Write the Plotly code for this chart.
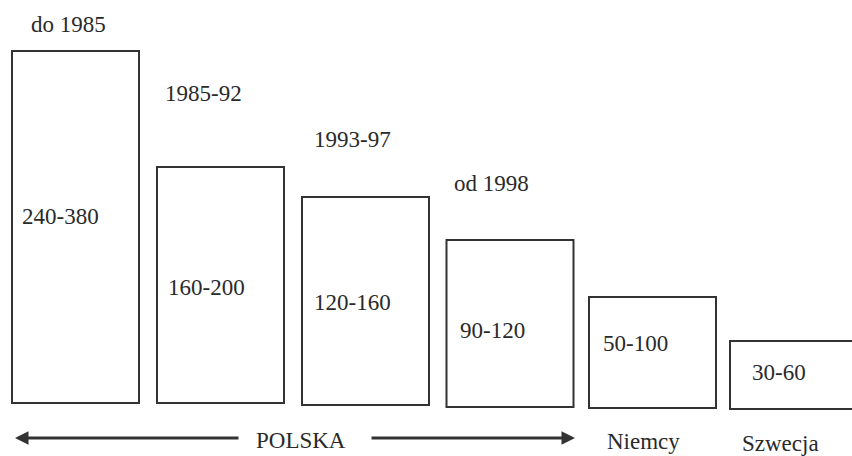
import plotly.graph_objects as go

# ---- data ----
periods = ["do 1985", "1985-92", "1993-97", "od 1998", "", ""]
ranges = ["240-380", "160-200", "120-160", "90-120", "50-100", "30-60"]
countries = ["POLSKA", "Niemcy", "Szwecja"]
# schematic box heights and baselines (chart units = pixels from bottom)
box_height = [352, 236, 208, 167, 111, 68]
box_bottom = [53, 53, 51, 49, 48, 47]

# ---- layout positions (not data) ----
W, H = 852, 456
box_center = [75.5, 220.5, 365.5, 510, 652.5, 793.5]
box_width = 127
period_pos = [(29, 24), (163, 93), (312, 139), (452, 183)]
range_pos = [(20, 216), (166, 287), (312, 302), (458, 330), (601, 343), (750, 372)]
country_pos = [(254, 440), (605, 441), (740, 443)]

FONT = dict(family="Liberation Serif", size=23, color="#2a2a2a")
LINE = "#333333"

fig = go.Figure()
fig.add_trace(go.Bar(
    x=box_center, y=box_height, base=box_bottom, width=box_width,
    marker=dict(color="white", line=dict(color=LINE, width=2)),
    hoverinfo="skip", showlegend=False,
))

ann = []
for txt, (px, py) in zip(periods, period_pos):
    ann.append(dict(x=px, y=H - py, text=txt, showarrow=False, xanchor="left",
                    yanchor="middle", font=FONT))
for txt, (px, py) in zip(ranges, range_pos):
    ann.append(dict(x=px, y=H - py, text=txt, showarrow=False, xanchor="left",
                    yanchor="middle", font=FONT))
for txt, (px, py) in zip(countries, country_pos):
    ann.append(dict(x=px, y=H - py, text=txt, showarrow=False, xanchor="left",
                    yanchor="middle", font=FONT))

# arrows around POLSKA
arrow_y = H - 438
for tip, tail in [(15, 240), (575, 370)]:
    ann.append(dict(x=tip, y=arrow_y, ax=tail, ay=arrow_y, xref="x", yref="y",
                    axref="x", ayref="y", text="", showarrow=True,
                    arrowhead=2, arrowsize=0.9, arrowwidth=3, arrowcolor=LINE))

fig.update_layout(
    width=W, height=H,
    margin=dict(l=0, r=0, t=0, b=0),
    paper_bgcolor="white", plot_bgcolor="white",
    xaxis=dict(range=[0, W], visible=False, fixedrange=True),
    yaxis=dict(range=[0, H], visible=False, fixedrange=True),
    annotations=ann,
    bargap=0,
)

fig.write_html(
    "out.html",
    config={"displayModeBar": False, "staticPlot": True},
    post_script="document.body.style.margin='0';document.body.style.overflow='hidden';",
)
